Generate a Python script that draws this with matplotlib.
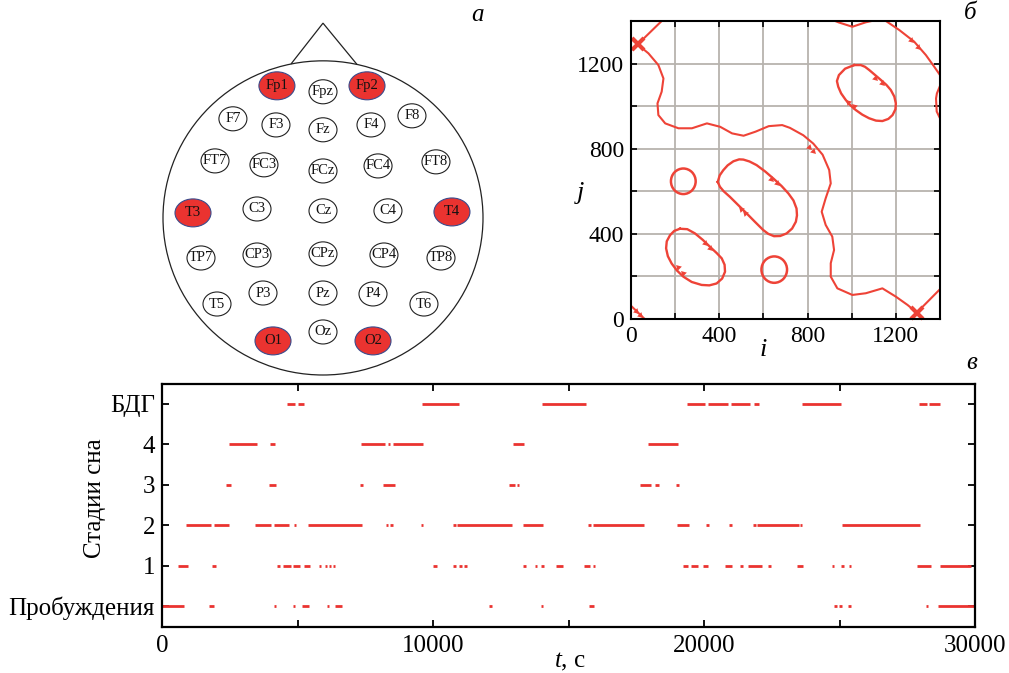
import matplotlib
matplotlib.use("Agg")
import matplotlib.pyplot as plt
from matplotlib.patches import Ellipse, Polygon

plt.rcParams["font.family"] = ["Liberation Serif", "DejaVu Serif"]
plt.rcParams["mathtext.fontset"] = "custom"
plt.rcParams["mathtext.rm"] = "Liberation Serif"
plt.rcParams["mathtext.it"] = "Liberation Serif:italic"

RED = "#ea3330"
CURVE_RED = "#ee4337"

# --- panel a: electrode scheme (head-normalised coords, radius 1) ---
ELECTRODES = ["Fp1", "Fpz", "Fp2", "F7", "F3", "Fz", "F4", "F8",
              "FT7", "FC3", "FCz", "FC4", "FT8", "T3", "C3", "Cz", "C4", "T4",
              "TP7", "CP3", "CPz", "CP4", "TP8", "T5", "P3", "Pz", "P4", "T6",
              "O1", "Oz", "O2"]
EL_U = [-0.288, 0.0, 0.275, -0.563, -0.294, 0.0, 0.30, 0.556,
        -0.675, -0.369, 0.0, 0.344, 0.706, -0.8125, -0.4125, 0.0, 0.406, 0.806,
        -0.7625, -0.4125, 0.0, 0.381, 0.7375, -0.6625, -0.375, 0.0, 0.3125, 0.631,
        -0.3125, 0.0, 0.3125]
EL_V = [0.841, 0.803, 0.841, 0.631, 0.592, 0.561, 0.592, 0.650,
        0.363, 0.338, 0.299, 0.331, 0.357, 0.032, 0.057, 0.045, 0.045, 0.038,
        -0.255, -0.236, -0.229, -0.236, -0.255, -0.548, -0.478, -0.478, -0.484, -0.548,
        -0.783, -0.726, -0.783]
SELECTED = ["Fp1", "Fp2", "T3", "T4", "O1", "O2"]

# --- panel б: recurrence-plot contour lines (i, j) ---
RP_WAVE = [(0, 1318), (30, 1290), (79, 1248), (124, 1193), (147, 1130), (139, 1068),
           (120, 1013), (124, 958), (155, 919), (215, 896), (276, 896), (344, 919),
           (404, 903), (458, 872), (510, 861), (564, 880), (624, 906), (685, 911),
           (720, 898), (781, 863), (826, 824), (868, 772), (898, 700), (905, 637),
           (882, 567), (864, 504), (882, 442), (912, 387), (920, 324), (905, 262),
           (905, 199), (935, 144), (1003, 113), (1064, 121), (1139, 144), (1200, 105),
           (1253, 66), (1295, 30), (1325, 0)]
RP_CROSS_A = [(139, 1400), (30, 1290), (0, 1262)]
RP_CROSS_B = [(1265, 0), (1295, 30), (1400, 140)]
RP_TOP = [(925, 1400), (942, 1393), (1003, 1373), (1064, 1394), (1090, 1400)]
RP_RIGHT = [(1400, 1095), (1386, 1060), (1382, 1036), (1385, 975), (1400, 943)]
RP_CORNER = [(1155, 1400), (1215, 1358), (1283, 1303), (1336, 1240), (1374, 1185), (1400, 1146)]
RP_CORNER_BL = [(0, 62), (62, 0)]
# two small near-circular loops: centre (i, j), width, height
RP_CIRCLES = [((237, 647), 112, 120), ((649, 232), 116, 124)]
RP_LOOPS = [
    [(393, 644), (402, 675), (418, 699), (438, 722), (464, 741), (490, 750), (509, 749),
     (537, 740), (569, 723), (608, 693), (645, 660), (682, 625), (713, 590), (736, 557),
     (750, 519), (752, 487), (747, 457), (730, 425), (705, 402), (676, 390), (648, 389),
     (622, 400), (599, 418), (562, 456), (524, 496), (486, 535), (448, 574), (420, 600),
     (403, 621)],
    [(222, 424), (196, 414), (177, 394), (162, 365), (159, 332), (167, 295), (184, 261),
     (208, 228), (237, 199), (275, 174), (320, 160), (355, 158), (388, 167), (413, 190),
     (426, 222), (424, 255), (411, 285), (388, 310), (358, 339), (325, 372), (290, 402),
     (255, 422)],
    [(1011, 1193), (970, 1176), (942, 1146), (933, 1118), (939, 1091), (952, 1060),
     (973, 1029), (994, 1004), (1018, 982), (1048, 960), (1079, 943), (1110, 932),
     (1139, 930), (1166, 940), (1185, 958), (1198, 985), (1200, 1013), (1193, 1045),
     (1177, 1076), (1157, 1100), (1132, 1123), (1105, 1147), (1079, 1170), (1060, 1185),
     (1041, 1193)],
]
RP_ARROWS = [(808, 809, -45), (823, 790, -45), (634, 660, -45), (660, 640, -45),
             (497, 519, 135), (516, 500, 135), (335, 355, -45), (358, 332, -45),
             (214, 245, 135), (237, 217, 135), (1105, 1134, -45), (1136, 1109, -45),
             (985, 1020, 135), (1010, 999, 135), (1267, 1312, -45), (1302, 1278, -45),
             (24, 38, -45), (42, 20, -45)]
RP_SADDLES = [(30, 1290), (1295, 30)]

# --- panel в: hypnogram, (start, end) in seconds for each stage ---
STAGE_LABELS = ["Пробуждения", "1", "2", "3", "4", "БДГ"]
WAKE = [(0, 800), (1720, 1920), (4130, 4220), (4830, 4920), (5170, 5410), (6090, 6180),
        (6400, 6660), (12060, 12160), (13970, 14070), (15770, 15950), (24790, 24890),
        (24990, 25110), (25300, 25410), (28190, 28280), (28650, 29950)]
STAGE1 = [(600, 950), (1830, 1980), (4260, 4340), (4480, 4750), (4830, 5080), (5250, 5450),
          (5780, 5850), (6010, 6080), (6150, 6230), (6300, 6380), (10010, 10130),
          (10720, 10840), (10950, 11060), (11150, 11240), (13310, 13420), (13750, 13830),
          (13980, 14080), (14540, 14790), (15570, 15790), (15890, 15980), (19240, 19420),
          (19510, 19790), (19950, 20160), (20780, 21020), (21330, 21450), (21610, 22130),
          (22370, 22470), (23420, 23660), (24710, 24800), (25040, 25170), (25350, 25420),
          (27850, 28380), (28710, 29840)]
STAGE2 = [(890, 1800), (1930, 2470), (3430, 4020), (4120, 4680), (4870, 4960), (5380, 7370),
          (8270, 8350), (8410, 8510), (9560, 9640), (10750, 10850), (10880, 12900),
          (13330, 14050), (15730, 15820), (15920, 17790), (18990, 19450), (20070, 20180),
          (20920, 21030), (21800, 21920), (21970, 23500), (23540, 23600), (25080, 27970)]
STAGE3 = [(2350, 2550), (3950, 4190), (7310, 7400), (8170, 8610), (12820, 13040),
          (13090, 13160), (17640, 18030), (18200, 18350), (18970, 19060)]
STAGE4 = [(2470, 3500), (4000, 4170), (7340, 8240), (8330, 8410), (8540, 9620),
          (12940, 13370), (17950, 19050)]
REM = [(4600, 4910), (5020, 5240), (9580, 10960), (14010, 15650), (19360, 20040),
       (20140, 20900), (20980, 21700), (21860, 22030), (23600, 25060), (27930, 28220),
       (28310, 28710)]
STAGES = [WAKE, STAGE1, STAGE2, STAGE3, STAGE4, REM]

W, H = 1009, 673
fig = plt.figure(figsize=(W / 100, H / 100), dpi=100)


def px_axes(x0, y0, x1, y1):
    return fig.add_axes([x0 / W, 1 - y1 / H, (x1 - x0) / W, (y1 - y0) / H])


# ---------- panel a ----------
ax_a = px_axes(163, 20, 483, 375)
ax_a.set_xlim(-1, 1)
ax_a.set_ylim(-1, 1.26)
ax_a.axis("off")
ax_a.add_patch(Ellipse((0, 0), 2, 2, fill=False, ec="#222222", lw=0.9, clip_on=False))
ax_a.add_patch(Polygon([(-0.2, 0.98), (0, 1.24), (0.2125, 0.977)], closed=False,
                       fill=False, ec="#222222", lw=0.9, clip_on=False))
for name, u, v in zip(ELECTRODES, EL_U, EL_V):
    if name in SELECTED:
        ax_a.add_patch(Ellipse((u, v), 0.225, 0.178, fc=RED, ec="#3b4b8c", lw=0.8))
    else:
        ax_a.add_patch(Ellipse((u, v), 0.175, 0.153, fc="white", ec="#222222", lw=0.8))
    ax_a.text(u, v, name, ha="center", va="center", fontsize=10.5, color="#111111")

# ---------- panel б ----------
ax_b = px_axes(631, 21, 940, 319)
ax_b.set_xlim(0, 1400)
ax_b.set_ylim(0, 1400)
ticks = [0, 200, 400, 600, 800, 1000, 1200]
tick_lbl = ["0", "", "400", "", "800", "", "1200"]
ax_b.set_xticks(ticks, tick_lbl)
ax_b.set_yticks(ticks, tick_lbl)
ax_b.grid(True, color="#b7b3ae", lw=1.3)
ax_b.set_axisbelow(True)
ax_b.tick_params(direction="in", top=True, right=True, length=4, width=1.2,
                 labelsize=17, pad=5)
for sp in ax_b.spines.values():
    sp.set_linewidth(1.5)
for line in [RP_WAVE, RP_CROSS_A, RP_CROSS_B, RP_TOP, RP_RIGHT, RP_CORNER, RP_CORNER_BL]:
    xs, ys = zip(*line)
    ax_b.plot(xs, ys, color=CURVE_RED, lw=1.5, solid_joinstyle="round")
for (ci, cj), cw, ch in RP_CIRCLES:
    ax_b.add_patch(Ellipse((ci, cj), cw, ch, fill=False, ec=CURVE_RED, lw=1.8))
for loop in RP_LOOPS:
    xs, ys = zip(*(loop + loop[:1]))
    ax_b.plot(xs, ys, color=CURVE_RED, lw=1.7, solid_joinstyle="round")
for i, j, ang in RP_ARROWS:
    ax_b.plot(i, j, marker=(3, 0, ang - 90), ms=5, color=CURVE_RED, mec="none")
for i, j in RP_SADDLES:
    ax_b.plot(i, j, marker="x", ms=8, mew=3, color=CURVE_RED, clip_on=False)
ax_b.set_xlabel("$i$", fontsize=19, va="center")
ax_b.set_ylabel("$j$", fontsize=19, rotation=0, ha="center", va="center")
ax_b.xaxis.set_label_coords(0.427, -0.105)
ax_b.yaxis.set_label_coords(-0.165, 0.423)

# ---------- panel в ----------
ax_c = px_axes(162, 384, 975, 627)
for level, runs in enumerate(STAGES):
    ax_c.hlines([level] * len(runs), [s for s, _ in runs], [e for _, e in runs],
                color=RED, lw=2.0)
ax_c.set_xlim(0, 30000)
ax_c.set_ylim(-0.52, 5.495)
ax_c.set_xticks(range(0, 30001, 5000),
                ["0", "", "10000", "", "20000", "", "30000"])
ax_c.set_yticks(range(6), STAGE_LABELS)
ax_c.tick_params(direction="in", top=True, right=True, length=5, width=1.3,
                 labelsize=18, pad=5)
ax_c.tick_params(axis="x", labelsize=18, pad=6)
for sp in ax_c.spines.values():
    sp.set_linewidth(1.6)
ax_c.set_xlabel("$t$, с", fontsize=18, va="center")
ax_c.xaxis.set_label_coords(0.502, -0.144)
ax_c.set_ylabel("Стадии сна", fontsize=18, va="center")
ax_c.yaxis.set_label_coords(-0.0824, 0.531)

for lbl, x, y in [("а", 478, 15), ("б", 970, 13), ("в", 972, 363)]:
    fig.text(x / W, 1 - y / H, lbl, ha="center", va="center", fontsize=18,
             style="italic")

fig.savefig("out.png", dpi=100)
